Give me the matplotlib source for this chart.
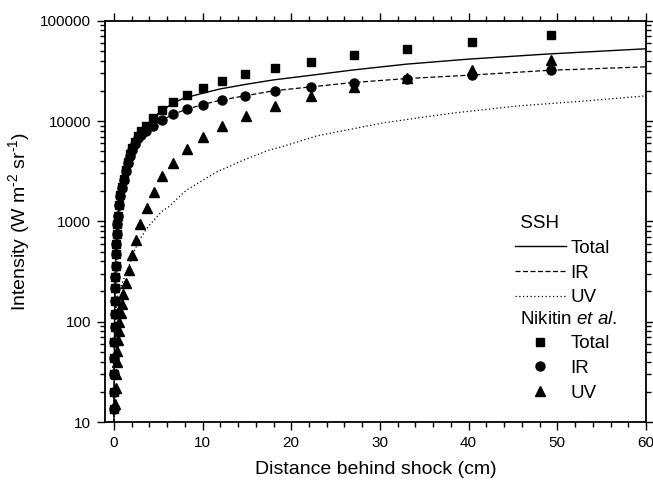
import matplotlib
matplotlib.use("Agg")
import matplotlib.pyplot as plt
from matplotlib.ticker import MultipleLocator, LogLocator, NullFormatter, FuncFormatter, FixedLocator

plt.rcParams['font.family'] = ['Liberation Sans', 'DejaVu Sans']
plt.rcParams['mathtext.fontset'] = 'custom'
plt.rcParams['mathtext.rm'] = 'Liberation Sans'
plt.rcParams['mathtext.it'] = 'Liberation Sans:italic'
plt.rcParams['mathtext.bf'] = 'Liberation Sans:bold'

# ---- SSH model curves ----
ssh_x = [0, 0.05, 0.1, 0.15, 0.2, 0.3, 0.4, 0.5, 0.7, 1.0, 1.5, 2, 3, 4, 5, 6.7, 8, 10,
         12, 15, 18, 22, 27, 33, 40, 49, 60]
ssh_total = [8, 43, 160, 250, 363, 680, 950, 1230, 1750, 2350, 3700, 5000, 7500, 9500, 11900,
             15200, 17000, 18900, 20900, 23300, 25700, 28400, 32300, 36900, 41400, 46600, 52500]
ssh_ir = [8, 43, 160, 250, 360, 670, 930, 1200, 1700, 2250, 3550, 4800, 7200, 8600, 9700,
          11700, 12900, 14600, 16100, 18000, 20000, 21800, 24200, 26500, 28600, 32000, 34700]
uv_x = [0, 0.05, 0.1, 0.2, 0.3, 0.45, 0.8, 1.2, 1.8, 2.33, 3.0, 3.83, 5.33, 6.2, 8.15, 11.6,
        14.6, 17.4, 19.1, 22.85, 30.4, 37.9, 45.4, 52.9, 60]
ssh_uv = [8, 30, 60, 120, 155, 182, 225, 277, 380, 513, 680, 877, 1240, 1400, 2040, 3110,
          4070, 5100, 5600, 7100, 9600, 11900, 14100, 15800, 17800]

# ---- Nikitin et al. data ----
nik_x = [0.02, 0.03, 0.04, 0.05, 0.06, 0.08, 0.09, 0.11, 0.14, 0.17, 0.2, 0.24, 0.28, 0.33,
         0.39, 0.46, 0.56, 0.72, 0.94, 1.13, 1.35, 1.58, 1.84, 2.1, 2.4, 2.74, 3.08, 3.6, 4.45,
         5.45, 6.7, 8.2, 10.0, 12.2, 14.8, 18.15, 22.2, 27.1, 33.1, 40.4, 49.3]
nik_total = [13.5, 20, 30, 43, 63, 88, 119, 162, 217, 282, 363, 468, 598, 753, 933, 1130,
             1450, 1820, 2200, 2670, 3240, 3920, 4650, 5330, 6210, 7130, 7940, 8970, 10800,
             12900, 15400, 18300, 21500, 25100, 29500, 33900, 39200, 45400, 52800, 61700, 71900]
nik_ir = [13.5, 20, 30, 43, 63, 88, 119, 162, 217, 282, 363, 468, 598, 753, 933, 1130,
          1450, 1800, 2150, 2600, 3150, 3800, 4450, 5100, 5900, 6700, 7300, 8000, 9000,
          10200, 11700, 13100, 14600, 16200, 17900, 20000, 21700, 24200, 26500, 29000, 32100]
nik_uv_x = [0.15, 0.19, 0.23, 0.3, 0.34, 0.42, 0.53, 0.6, 0.75, 0.87, 1.05, 1.35, 1.65, 2.0,
            2.5, 3.0, 3.7, 4.5, 5.45, 6.7, 8.2, 10.0, 12.2, 14.9, 18.15, 22.2, 27.1, 33.1,
            40.4, 49.3]
nik_uv = [15, 22, 30.4, 40, 51, 65, 80, 98.5, 122, 150, 189, 245, 331, 457, 656, 948, 1370,
          1980, 2820, 3860, 5210, 6870, 8900, 11200, 14100, 17800, 21700, 26700, 32400, 40400]

x_ticks = [0, 10, 20, 30, 40, 50, 60]
y_ticks = [10, 100, 1000, 10000, 100000]

fig = plt.figure(figsize=(6.53, 4.83), dpi=100)
W, H = 653, 483
ax = fig.add_axes([105 / W, 1 - 422 / H, (646 - 105) / W, (422 - 20.7) / H])

l_tot, = ax.plot(ssh_x, ssh_total, color='black', lw=1.0, ls='-')
l_ir, = ax.plot(ssh_x, ssh_ir, color='black', lw=0.9, ls=(0, (4, 2)))
l_uv, = ax.plot(uv_x, ssh_uv, color='black', lw=0.9, ls=(0, (1, 2)))

m_tot, = ax.plot(nik_x, nik_total, ls='none', marker='s', ms=6, color='black')
m_ir, = ax.plot(nik_x, nik_ir, ls='none', marker='o', ms=6.5, color='black')
m_uv, = ax.plot(nik_uv_x, nik_uv, ls='none', marker='^', ms=7, color='black')

ax.set_yscale('log')
ax.set_xlim(-1, 60)
ax.set_ylim(10, 100000)
ax.xaxis.set_major_locator(FixedLocator(x_ticks))
ax.xaxis.set_minor_locator(MultipleLocator(2))
ax.yaxis.set_major_locator(FixedLocator(y_ticks))
ax.yaxis.set_major_formatter(FuncFormatter(lambda v, p: f"{int(round(v))}"))
ax.yaxis.set_minor_locator(LogLocator(base=10, subs=[2, 3, 4, 5, 6, 7, 8, 9]))
ax.yaxis.set_minor_formatter(NullFormatter())

ax.tick_params(which='both', direction='out', top=True, right=True,
               labeltop=False, labelright=False, width=1.0, labelsize=11)
ax.tick_params(which='major', length=6, pad=4)
ax.tick_params(which='minor', length=3.5)
for s in ax.spines.values():
    s.set_linewidth(1.3)

ax.set_xlabel('Distance behind shock (cm)', fontsize=14, labelpad=8)
ax.set_ylabel('Intensity (W m$^{\\text{-2}}$ sr$^{\\text{-1}}$)', fontsize=14, labelpad=6)

common = dict(frameon=False, fontsize=13.5, title_fontsize=13.5, alignment='left',
              handlelength=2.7, handletextpad=0.25, labelspacing=0.4,
              borderpad=0, borderaxespad=0, loc='upper left')
leg1 = ax.legend(handles=[l_tot, l_ir, l_uv], labels=['Total', 'IR', 'UV'],
                 title=' SSH', bbox_to_anchor=(0.758, 0.515), **common)
ax.add_artist(leg1)
leg2 = ax.legend(handles=[m_tot, m_ir, m_uv], labels=['Total', 'IR', 'UV'],
                 title=' Nikitin $\\mathit{et\\ al.}$', bbox_to_anchor=(0.758, 0.2775), **common)

fig.savefig('out.png', dpi=100)
